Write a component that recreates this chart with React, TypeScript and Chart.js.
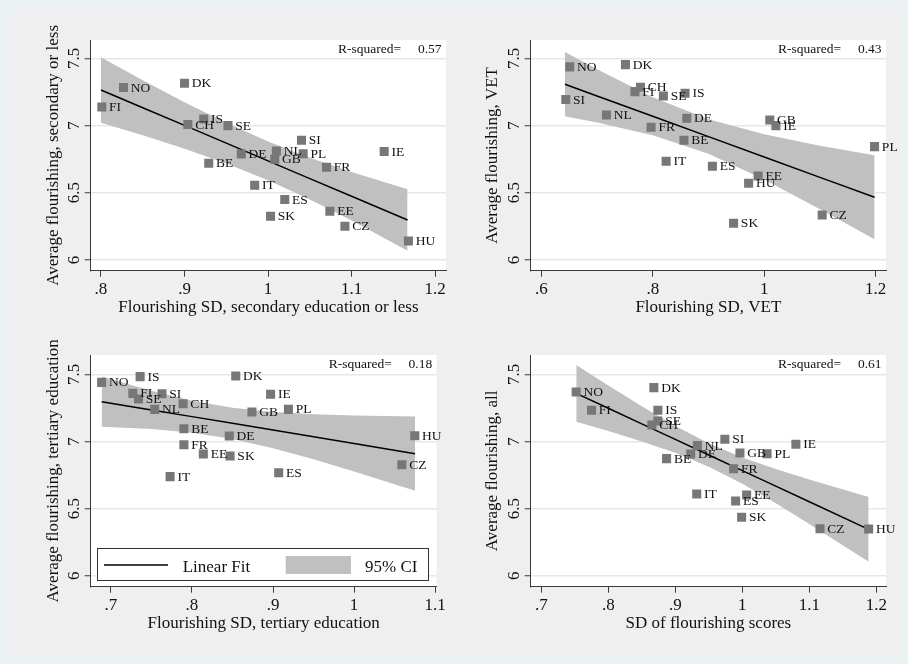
import React, { useEffect, useRef } from "react";
import { Chart, registerables } from "chart.js";

Chart.register(...registerables);

const FONT = '"Liberation Serif", "Times New Roman", Times, serif';
const TEXT = "#111111";
const AXIS = "#3a3a3a";
const GRID = "#E3E9EB";
const POINT = "#777777";
const BAND = "#C0C0C0";
const OUTER_BG = "#EAF2F3";
const PANEL_BG = "#EFEFEF";

// ---------- Panel 1: secondary education or less ----------
const p1Countries = ["FI", "NO", "DK", "IS", "CH", "SE", "SI", "NL", "PL", "GB", "DE", "BE", "FR", "IE", "IT", "ES", "SK", "EE", "CZ", "HU"];
const p1SD = [0.801, 0.827, 0.9, 0.923, 0.904, 0.952, 1.04, 1.01, 1.042, 1.008, 0.968, 0.929, 1.07, 1.139, 0.984, 1.02, 1.003, 1.074, 1.092, 1.168];
const p1Mean = [7.138, 7.282, 7.314, 7.049, 7.007, 6.999, 6.89, 6.81, 6.79, 6.749, 6.788, 6.719, 6.689, 6.806, 6.555, 6.449, 6.325, 6.362, 6.25, 6.141];
const p1FitX = [0.8, 0.85, 0.9, 0.95, 1.0, 1.05, 1.1, 1.167];
const p1Fit = [7.264, 7.132, 7.001, 6.869, 6.737, 6.605, 6.474, 6.297];
const p1Upper = [7.508, 7.337, 7.173, 7.02, 6.881, 6.761, 6.655, 6.526];
const p1Lower = [7.02, 6.927, 6.828, 6.718, 6.593, 6.449, 6.293, 6.068];
const p1XTicks = [0.8, 0.9, 1, 1.1, 1.2];
const p1XTickLabels = [".8", ".9", "1", "1.1", "1.2"];

// ---------- Panel 2: VET ----------
const p2Countries = ["NO", "DK", "SI", "CH", "FI", "SE", "IS", "NL", "DE", "FR", "BE", "GB", "IE", "PL", "IT", "ES", "EE", "HU", "SK", "CZ"];
const p2SD = [0.651, 0.751, 0.644, 0.778, 0.768, 0.819, 0.858, 0.717, 0.861, 0.797, 0.856, 1.01, 1.021, 1.198, 0.824, 0.907, 0.989, 0.972, 0.945, 1.104];
const p2Mean = [7.436, 7.453, 7.193, 7.284, 7.252, 7.22, 7.24, 7.078, 7.054, 6.987, 6.89, 7.041, 6.999, 6.843, 6.734, 6.697, 6.625, 6.57, 6.273, 6.335];
const p2FitX = [0.6425, 0.7, 0.8, 0.9, 1.0, 1.1, 1.198];
const p2Fit = [7.307, 7.22, 7.069, 6.917, 6.766, 6.614, 6.466];
const p2Upper = [7.547, 7.418, 7.211, 7.046, 6.935, 6.85, 6.779];
const p2Lower = [7.068, 7.022, 6.927, 6.789, 6.598, 6.378, 6.154];
const p2XTicks = [0.6, 0.8, 1, 1.2];
const p2XTickLabels = [".6", ".8", "1", "1.2"];

// ---------- Panel 3: tertiary education ----------
const p3Countries = ["NO", "IS", "DK", "FI", "SE", "SI", "CH", "NL", "IE", "PL", "GB", "BE", "DE", "FR", "EE", "SK", "IT", "ES", "HU", "CZ"];
const p3SD = [0.6885, 0.736, 0.854, 0.727, 0.734, 0.763, 0.789, 0.754, 0.897, 0.919, 0.874, 0.79, 0.846, 0.79, 0.814, 0.847, 0.773, 0.907, 1.075, 1.059];
const p3Mean = [7.44, 7.483, 7.488, 7.358, 7.316, 7.356, 7.281, 7.239, 7.351, 7.239, 7.219, 7.095, 7.041, 6.976, 6.907, 6.892, 6.738, 6.767, 7.043, 6.827];
const p3FitX = [0.6885, 0.75, 0.8, 0.85, 0.9, 0.95, 1.0, 1.0753];
const p3Fit = [7.296, 7.235, 7.185, 7.135, 7.085, 7.035, 6.985, 6.909];
const p3Upper = [7.484, 7.377, 7.304, 7.251, 7.219, 7.202, 7.193, 7.186];
const p3Lower = [7.109, 7.092, 7.065, 7.018, 6.95, 6.867, 6.776, 6.632];
const p3XTicks = [0.7, 0.8, 0.9, 1, 1.1];
const p3XTickLabels = [".7", ".8", ".9", "1", "1.1"];

// ---------- Panel 4: all ----------
const p4Countries = ["NO", "FI", "DK", "IS", "SE", "CH", "SI", "NL", "IE", "DE", "GB", "PL", "BE", "FR", "IT", "EE", "ES", "SK", "CZ", "HU"];
const p4SD = [0.752, 0.775, 0.868, 0.874, 0.874, 0.865, 0.974, 0.933, 1.08, 0.923, 0.9965, 1.037, 0.887, 0.987, 0.932, 1.0065, 0.99, 0.999, 1.116, 1.1886];
const p4Mean = [7.368, 7.232, 7.401, 7.232, 7.152, 7.123, 7.016, 6.969, 6.979, 6.907, 6.914, 6.909, 6.872, 6.797, 6.609, 6.601, 6.556, 6.435, 6.35, 6.348];
const p4FitX = [0.7522, 0.8, 0.85, 0.9, 0.95, 1.0, 1.05, 1.1, 1.1886];
const p4Fit = [7.358, 7.247, 7.131, 7.015, 6.899, 6.783, 6.667, 6.551, 6.345];
const p4Upper = [7.569, 7.417, 7.262, 7.115, 6.986, 6.881, 6.794, 6.717, 6.587];
const p4Lower = [7.147, 7.077, 7.0, 6.915, 6.812, 6.685, 6.54, 6.386, 6.103];
const p4XTicks = [0.7, 0.8, 0.9, 1, 1.1, 1.2];
const p4XTickLabels = [".7", ".8", ".9", "1", "1.1", "1.2"];

const yTickValues = [6, 6.5, 7, 7.5];
const yTickLabels = ["6", "6.5", "7", "7.5"];

const rSquared = ["0.57", "0.43", "0.18", "0.61"];
const xTitles = [
  "Flourishing SD, secondary education or less",
  "Flourishing SD, VET",
  "Flourishing SD, tertiary education",
  "SD of flourishing scores",
];
const yTitles = [
  "Average flourishing, secondary or less",
  "Average flourishing, VET",
  "Average flourishing, tertiary education",
  "Average flourishing, all",
];
const legendLabels = ["Linear Fit", "95% CI"];

type PanelSpec = {
  id: number;
  left: number;
  top: number;
  width: number;
  height: number;
  area: { left: number; top: number; right: number; bottom: number };
  xMin: number;
  xMax: number;
  yMin: number;
  yMax: number;
  xTicks: number[];
  xTickLabels: string[];
  xTitle: string;
  yTitle: string;
  yTitleX: number;
  xTitleY: number;
  countries: string[];
  sd: number[];
  mean: number[];
  fitX: number[];
  fit: number[];
  upper: number[];
  lower: number[];
  r2: string;
  legend: boolean;
};

const panels: PanelSpec[] = [
  {
    id: 0, left: 0, top: 0, width: 454, height: 330,
    area: { left: 90.7, top: 40, right: 446, bottom: 270.7 },
    xMin: 0.7877, xMax: 1.213, yMin: 5.92, yMax: 7.636,
    xTicks: p1XTicks, xTickLabels: p1XTickLabels,
    xTitle: xTitles[0], yTitle: yTitles[0], yTitleX: 58.3, xTitleY: 311.6,
    countries: p1Countries, sd: p1SD, mean: p1Mean,
    fitX: p1FitX, fit: p1Fit, upper: p1Upper, lower: p1Lower,
    r2: rSquared[0], legend: false,
  },
  {
    id: 1, left: 454, top: 0, width: 454, height: 330,
    area: { left: 76.7, top: 40, right: 432, bottom: 270.7 },
    xMin: 0.581, xMax: 1.2185, yMin: 5.92, yMax: 7.636,
    xTicks: p2XTicks, xTickLabels: p2XTickLabels,
    xTitle: xTitles[1], yTitle: yTitles[1], yTitleX: 43.3, xTitleY: 311.6,
    countries: p2Countries, sd: p2SD, mean: p2Mean,
    fitX: p2FitX, fit: p2Fit, upper: p2Upper, lower: p2Lower,
    r2: rSquared[1], legend: false,
  },
  {
    id: 2, left: 0, top: 330, width: 454, height: 334,
    area: { left: 90.7, top: 25, right: 436.7, bottom: 256.7 },
    xMin: 0.675, xMax: 1.102, yMin: 5.918, yMax: 7.644,
    xTicks: p3XTicks, xTickLabels: p3XTickLabels,
    xTitle: xTitles[2], yTitle: yTitles[2], yTitleX: 58.3, xTitleY: 298.3,
    countries: p3Countries, sd: p3SD, mean: p3Mean,
    fitX: p3FitX, fit: p3Fit, upper: p3Upper, lower: p3Lower,
    r2: rSquared[2], legend: true,
  },
  {
    id: 3, left: 454, top: 330, width: 454, height: 334,
    area: { left: 76.7, top: 25, right: 432, bottom: 256.7 },
    xMin: 0.6842, xMax: 1.2145, yMin: 5.918, yMax: 7.644,
    xTicks: p4XTicks, xTickLabels: p4XTickLabels,
    xTitle: xTitles[3], yTitle: yTitles[3], yTitleX: 43.3, xTitleY: 298.3,
    countries: p4Countries, sd: p4SD, mean: p4Mean,
    fitX: p4FitX, fit: p4Fit, upper: p4Upper, lower: p4Lower,
    r2: rSquared[3], legend: false,
  },
];

function makeTextPlugin(spec: PanelSpec) {
  return {
    id: "panelText" + spec.id,
    beforeDraw(chart: any) {
      const a = chart.chartArea;
      const ctx = chart.ctx;
      ctx.save();
      ctx.fillStyle = "#ffffff";
      ctx.fillRect(a.left, a.top, a.right - a.left, a.bottom - a.top);
      ctx.restore();
    },
    afterDatasetsDraw(chart: any) {
      const ctx = chart.ctx;
      const a = chart.chartArea;
      const xs = chart.scales.x;
      const ys = chart.scales.y;
      ctx.save();
      ctx.fillStyle = TEXT;

      // point labels
      ctx.font = `13.5px ${FONT}`;
      ctx.textAlign = "left";
      ctx.textBaseline = "middle";
      const meta = chart.getDatasetMeta(0);
      meta.data.forEach((pt: any, i: number) => {
        ctx.fillText(spec.countries[i], pt.x + 7.3, pt.y + 0.5);
      });

      // R-squared
      ctx.font = `13.5px ${FONT}`;
      ctx.textBaseline = "alphabetic";
      ctx.textAlign = "left";
      ctx.fillText("R-squared=", a.right - 108, a.top + 12.8);
      ctx.textAlign = "right";
      ctx.fillText(spec.r2, a.right - 4.5, a.top + 12.8);

      // x tick labels
      ctx.font = `17px ${FONT}`;
      ctx.textAlign = "center";
      ctx.textBaseline = "alphabetic";
      spec.xTicks.forEach((v, i) => {
        ctx.fillText(spec.xTickLabels[i], xs.getPixelForValue(v), a.bottom + 22.8);
      });

      // y tick labels (rotated)
      yTickValues.forEach((v, i) => {
        const py = ys.getPixelForValue(v);
        ctx.save();
        ctx.translate(a.left - 12, py);
        ctx.rotate(-Math.PI / 2);
        ctx.textAlign = "center";
        ctx.textBaseline = "alphabetic";
        ctx.fillText(yTickLabels[i], 0, 0);
        ctx.restore();
      });

      // x title
      ctx.textAlign = "center";
      ctx.fillText(spec.xTitle, (a.left + a.right) / 2, spec.xTitleY);

      // y title
      ctx.save();
      ctx.translate(spec.yTitleX, (a.top + a.bottom) / 2);
      ctx.rotate(-Math.PI / 2);
      ctx.textAlign = "center";
      ctx.fillText(spec.yTitle, 0, 0);
      ctx.restore();

      // legend
      if (spec.legend) {
        const bl = a.left + 6;
        const br = a.right - 9;
        const bb = a.bottom - 6;
        const bt = bb - 32.4;
        ctx.fillStyle = "#ffffff";
        ctx.fillRect(bl, bt, br - bl, bb - bt);
        ctx.strokeStyle = "#333333";
        ctx.lineWidth = 1;
        ctx.strokeRect(Math.round(bl) + 0.5, Math.round(bt) + 0.5, Math.round(br - bl), Math.round(bb - bt));
        ctx.strokeStyle = "#000000";
        ctx.lineWidth = 1.5;
        ctx.beginPath();
        ctx.moveTo(bl + 7.3, bt + 16.7);
        ctx.lineTo(bl + 71.3, bt + 16.7);
        ctx.stroke();
        ctx.fillStyle = BAND;
        ctx.fillRect(bl + 189, bt + 7.7, 65.3, 18);
        ctx.fillStyle = TEXT;
        ctx.font = `17px ${FONT}`;
        ctx.textAlign = "left";
        ctx.textBaseline = "alphabetic";
        ctx.fillText(legendLabels[0], bl + 86, bt + 23.4);
        ctx.fillText(legendLabels[1], bl + 268.3, bt + 23.4);
      }
      ctx.restore();
    },
  };
}

function buildConfig(spec: PanelSpec): any {
  const pts = spec.sd.map((x, i) => ({ x, y: spec.mean[i] }));
  const fitPts = spec.fitX.map((x, i) => ({ x, y: spec.fit[i] }));
  const upPts = spec.fitX.map((x, i) => ({ x, y: spec.upper[i] }));
  const loPts = spec.fitX.map((x, i) => ({ x, y: spec.lower[i] }));
  return {
    type: "scatter",
    data: {
      datasets: [
        {
          label: "points",
          data: pts,
          pointStyle: "rect",
          pointRadius: 6.4,
          pointHoverRadius: 6.4,
          backgroundColor: POINT,
          borderWidth: 0,
          borderColor: "rgba(0,0,0,0)",
        },
        {
          type: "line",
          label: "Linear Fit",
          data: fitPts,
          borderColor: "#000000",
          borderWidth: 1.5,
          pointRadius: 0,
          fill: false,
          tension: 0,
        },
        {
          type: "line",
          label: "lower",
          data: loPts,
          borderColor: "rgba(0,0,0,0)",
          borderWidth: 1,
          pointRadius: 0,
          fill: false,
          tension: 0,
        },
        {
          type: "line",
          label: "95% CI",
          data: upPts,
          borderColor: "rgba(0,0,0,0)",
          borderWidth: 1,
          pointRadius: 0,
          backgroundColor: BAND,
          fill: "-1",
          tension: 0,
        },
      ],
    },
    options: {
      animation: false,
      responsive: false,
      events: [],
      layout: {
        padding: { left: 0, top: spec.area.top, right: spec.width - spec.area.right, bottom: 0 },
      },
      plugins: { legend: { display: false }, tooltip: { enabled: false } },
      scales: {
        x: {
          type: "linear",
          min: spec.xMin,
          max: spec.xMax,
          afterBuildTicks: (s: any) => {
            s.ticks = spec.xTicks.map((v) => ({ value: v }));
          },
          afterFit: (s: any) => {
            s.height = spec.height - spec.area.bottom;
          },
          ticks: { display: false },
          grid: {
            drawOnChartArea: false,
            drawTicks: true,
            tickLength: 6,
            tickColor: AXIS,
            tickWidth: 1,
            color: AXIS,
          },
          border: { display: true, color: AXIS, width: 1 },
          title: { display: false },
        },
        y: {
          type: "linear",
          min: spec.yMin,
          max: spec.yMax,
          afterBuildTicks: (s: any) => {
            s.ticks = yTickValues.map((v) => ({ value: v }));
          },
          afterFit: (s: any) => {
            s.width = spec.area.left;
          },
          ticks: { display: false },
          grid: {
            color: GRID,
            lineWidth: 1.5,
            drawTicks: true,
            tickLength: 6,
            tickColor: AXIS,
            tickWidth: 1,
          },
          border: { display: true, color: AXIS, width: 1 },
          title: { display: false },
        },
      },
    },
    plugins: [makeTextPlugin(spec)],
  };
}

function Panel({ spec }: { spec: PanelSpec }) {
  const ref = useRef<HTMLCanvasElement | null>(null);
  useEffect(() => {
    const canvas = ref.current;
    if (!canvas) return;
    const chart = new Chart(canvas, buildConfig(spec));
    return () => chart.destroy();
  }, [spec]);
  return (
    <canvas
      ref={ref}
      width={spec.width}
      height={spec.height}
      style={{
        position: "absolute",
        left: spec.left,
        top: spec.top,
        width: spec.width,
        height: spec.height,
      }}
    />
  );
}

export default function App() {
  useEffect(() => {
    document.body.style.margin = "0";
  }, []);
  return (
    <div
      style={{
        position: "fixed",
        left: 0,
        top: 0,
        width: 908,
        height: 664,
        background: OUTER_BG,
        overflow: "hidden",
      }}
    >
      <div
        style={{
          position: "absolute",
          left: 8,
          top: 7,
          width: 893,
          height: 649,
          background: PANEL_BG,
        }}
      />
      {panels.map((p) => (
        <Panel key={p.id} spec={p} />
      ))}
    </div>
  );
}
